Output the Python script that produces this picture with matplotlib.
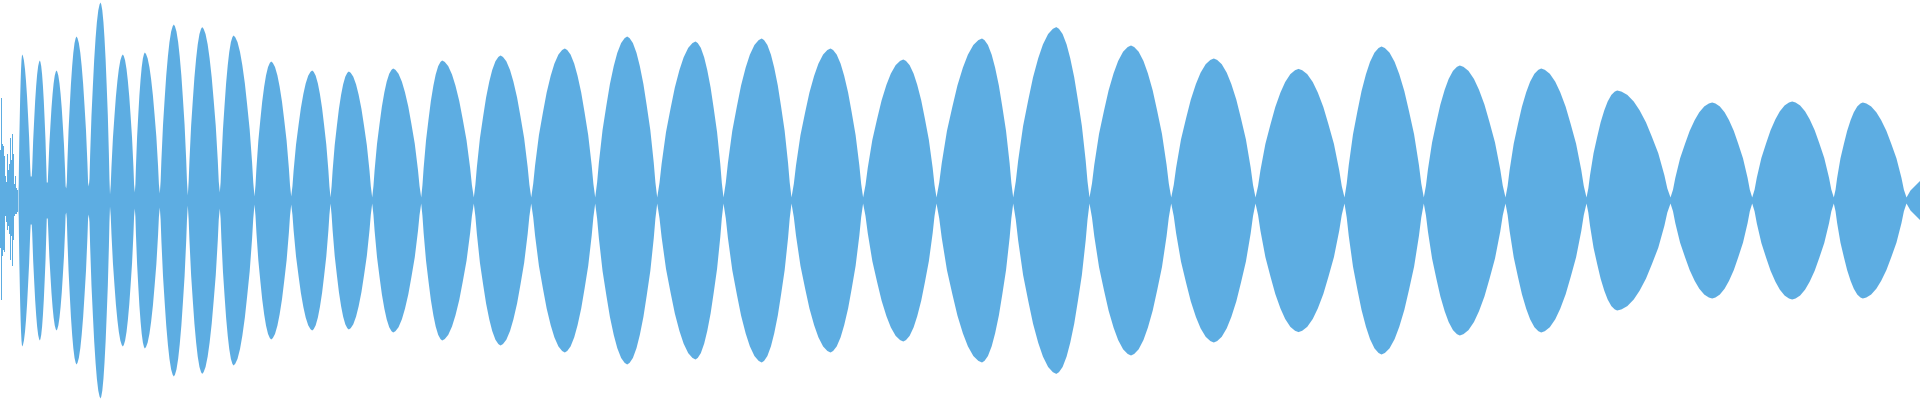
import matplotlib.pyplot as plt

# -----------------------------
# Waveform data
# -----------------------------
# noisy onset, one value per pixel column
onset_top = [0.25, 0.51, 0.28, 0.27, 0.22, 0.12, 0.09, 0.23, 0.15, 0.18,
             0.31, 0.20, 0.33, 0.23, 0.08, 0.12, 0.06, 0.05]
onset_bottom = [0.24, 0.50, 0.28, 0.25, 0.26, 0.08, 0.11, 0.15, 0.13, 0.17,
                0.30, 0.18, 0.33, 0.20, 0.08, 0.07, 0.07, 0.06]

# zero crossings of the envelope (beat nodes)
nodes = [18, 30.7, 46.7, 65.7, 88.3, 109.5, 134.3, 159.3, 187.3, 219.3,
         254, 290.7, 330, 371.7, 420.7, 473.3, 530.7, 594.7, 656.7, 723,
         791, 862.6, 936, 1012.7, 1089, 1170.7, 1255, 1344, 1423.3, 1505,
         1586, 1670, 1751.7, 1833.3, 1906]
node_floor = [0.05, 0.12, 0.09, 0.06, 0.07, 0.03, 0.04, 0.035, 0.025, 0.04,
              0.02, 0.02, 0.015, 0.015, 0.015, 0.015, 0.015, 0.015, 0.015, 0.015,
              0.015, 0.015, 0.015, 0.015, 0.015, 0.015, 0.015, 0.015, 0.015, 0.015,
              0.015, 0.015, 0.015, 0.015, 0.015]

# lobe peaks
peak_pos = [21.7, 39.3, 56, 76, 100, 122.3, 144.3, 173.3, 201.7, 233,
            270.7, 311.7, 348.3, 392.7, 441.7, 500, 564.3, 626.7, 695, 761.2,
            830, 902.8, 981.5, 1055.8, 1130.5, 1213.3, 1298, 1381, 1459.3, 1540.7,
            1616.7, 1711.7, 1791.7, 1862.3]
peak_amp = [0.73, 0.70, 0.65, 0.82, 0.99, 0.73, 0.74, 0.88, 0.867, 0.825,
            0.695, 0.65, 0.645, 0.66, 0.70, 0.725, 0.76, 0.82, 0.795, 0.81,
            0.76, 0.705, 0.81, 0.867, 0.775, 0.71, 0.658, 0.77, 0.675, 0.66,
            0.55, 0.49, 0.495, 0.49]

# half-lobe profile (node -> peak), measured on the lobe around x=1298
shape_t = [0, 0.06, 0.115, 0.23, 0.35, 0.46, 0.58, 0.69, 0.81, 0.92, 1.0]
shape_a = [0, 0.11, 0.23, 0.43, 0.58, 0.71, 0.82, 0.90, 0.96, 0.99, 1.0]

# last partial lobe at the right edge
tail_x = [1906, 1910, 1915, 1920]
tail_amp = [0.015, 0.05, 0.075, 0.10]

color = '#5DADE2'

# -----------------------------
# Build envelope
# -----------------------------
env_x = []
env_a = []
for i in range(len(peak_pos)):
    left, right = nodes[i], nodes[i + 1]
    p, a = peak_pos[i], peak_amp[i]
    # rising side
    for t, s in zip(shape_t, shape_a):
        env_x.append(left + t * (p - left))
        env_a.append(max(s * a, node_floor[i]))
    # falling side
    for t, s in zip(shape_t[-2::-1], shape_a[-2::-1]):
        env_x.append(right - t * (right - p))
        env_a.append(max(s * a, node_floor[i + 1]))

env_x += tail_x[1:]
env_a += tail_amp[1:]

# -----------------------------
# Plot
# -----------------------------
fig = plt.figure(figsize=(19.2, 4), dpi=100)
ax = fig.add_axes([0, 0, 1, 1])

onset_x = list(range(len(onset_top)))
ax.fill_between(onset_x + [18], onset_top + [node_floor[0]],
                [-b for b in onset_bottom] + [-node_floor[0]],
                step='mid', color=color, linewidth=0)

ax.fill_between(env_x, env_a, [-v for v in env_a], color=color, linewidth=0)

ax.set_xlim(0, 1920)
ax.set_ylim(-1, 1)
ax.axis('off')

fig.savefig('out.png', dpi=100, facecolor='white')
